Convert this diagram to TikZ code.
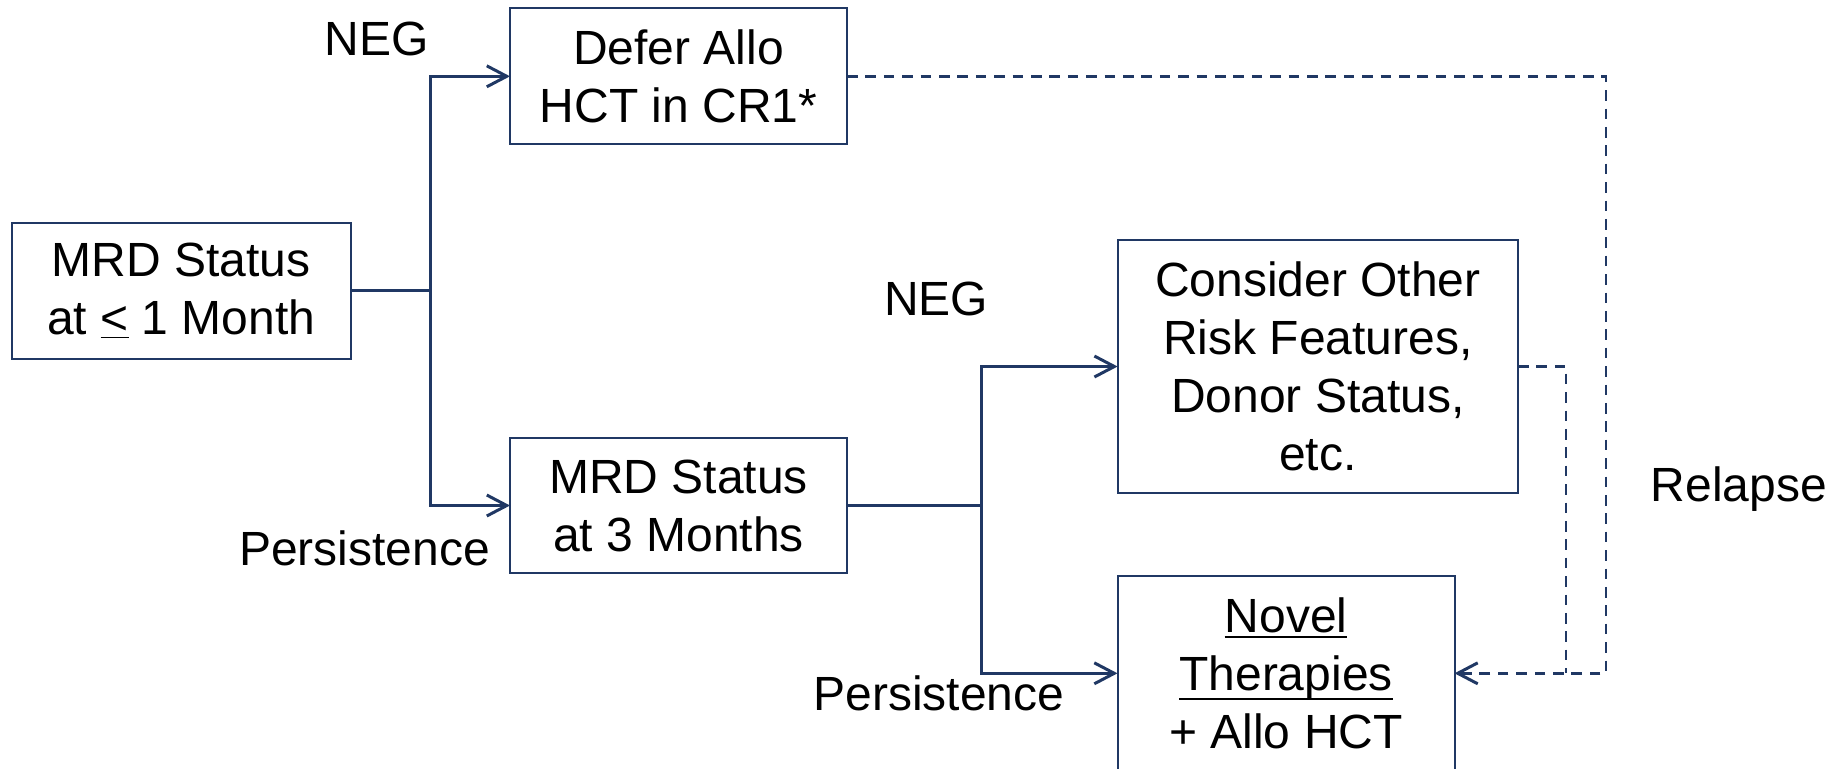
\documentclass[tikz,border=0pt]{standalone}
\usepackage{fontspec}
\setmainfont{Liberation Sans}
\usetikzlibrary{arrows.meta}
\definecolor{dblue}{HTML}{203864}
\newcommand{\fixul}[2]{\setbox0\hbox{#2}\rlap{\rule[-#1]{\wd0}{1.1pt}}\box0}
\begin{document}
\begin{tikzpicture}[x=0.5pt,y=-0.5pt,
  font=\fontsize{24pt}{29pt}\selectfont,
  box/.style={draw=dblue, line width=1pt, align=center, inner sep=0pt, outer sep=0pt, text=black},
  conn/.style={draw=dblue, line width=1.5pt},
  dashline/.style={draw=dblue, line width=1.3pt, dash pattern=on 5.3pt off 3.9pt},
  tip/.style={-{Straight Barb[length=10pt,width=10.5pt,line width=1.5pt]}},
  lbl/.style={anchor=base, inner sep=0pt, text=black}]
\useasboundingbox (0,0) rectangle (1845,768);

\node[box, minimum width=169.75pt, minimum height=68pt] (a) at (181.25,290.7) {MRD Status\\at \underline{<} 1 Month};
\node[box, minimum width=168.5pt, minimum height=68pt] (defer) at (678.5,76.3) {Defer Allo\\HCT in CR1*};
\node[box, minimum width=168.5pt, minimum height=67.8pt] (mrd3) at (678.5,505.5) {MRD Status\\at 3 Months};
\node[box, minimum width=200.2pt, minimum height=126.15pt] (consider) at (1317.8,366.5) {Consider Other\\Risk Features,\\Donor Status,\\etc.};
\node[box, minimum width=168.5pt, minimum height=97.3pt] (novel) at (1286,673.3) {\fixul{2.8pt}{Novel}\\\fixul{4.8pt}{Therapies}\\+ Allo HCT};

\node[lbl] (neg1) at (377,55) {NEG};
\node[lbl] (pers1) at (364.5,565) {Persistence};
\node[lbl] (neg2) at (936,315) {NEG};
\node[lbl] (pers2) at (939,710) {Persistence};
\node[lbl] (relapse) at (1739,501.7) {Relapse};

\coordinate (j1) at (430,290.7);
\coordinate (j2) at (981.4,505.5);
\coordinate (c1) at (1606,673.3);
\coordinate (c2) at (1566,673.3);

\draw[conn] (a.east) -- (j1);
\draw[conn,tip] (j1) |- (defer.west);
\draw[conn,tip] (j1) |- (mrd3.west);
\draw[conn] (mrd3.east) -- (j2);
\draw[conn,tip] (j2) |- (consider.west);
\draw[conn,tip] (j2) |- (novel.west);

\draw[dashline,tip] (defer.east) -| (c1) -- (novel.east);
\draw[dashline] (consider.east) -| (c2);
\end{tikzpicture}
\end{document}
